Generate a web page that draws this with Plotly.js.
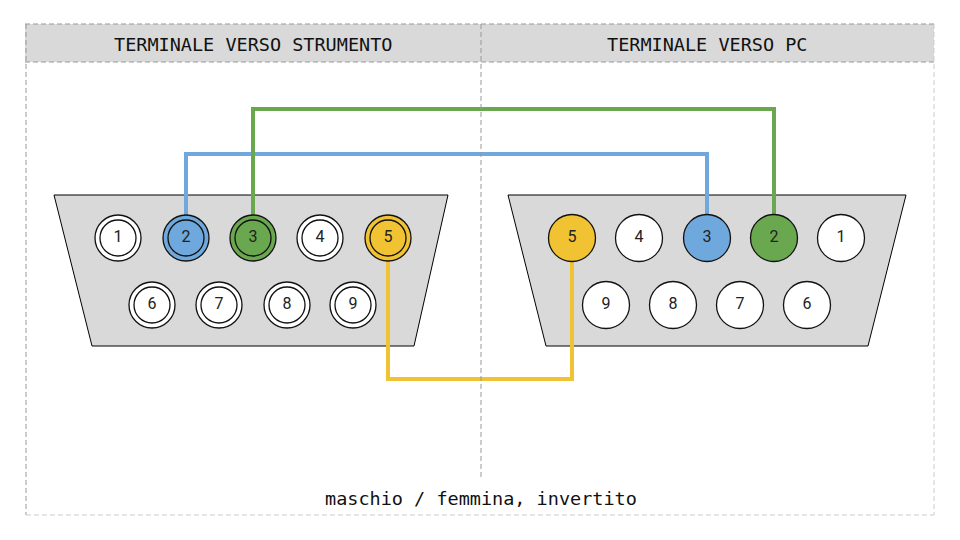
<!DOCTYPE html>
<html>
<head>
<meta charset="utf-8">
<script src="https://cdn.plot.ly/plotly-3.0.1.min.js"></script>
<style>
  html, body { margin: 0; padding: 0; background: #fff; }
  #chart { width: 960px; height: 540px; }
</style>
</head>
<body>
<div id="chart"></div>
<script>
// Section titles and footer
var headerLabels = ['TERMINALE VERSO STRUMENTO', 'TERMINALE VERSO PC'];
var footerLabel = 'maschio / femmina, invertito';

// Pin numbers as they appear on each connector (left to right)
var leftTopPins = [1, 2, 3, 4, 5];
var leftBottomPins = [6, 7, 8, 9];
var rightTopPins = [5, 4, 3, 2, 1];
var rightBottomPins = [9, 8, 7, 6];

// Wiring: pin on the instrument side -> pin on the PC side
var wireFrom = [2, 3, 5];
var wireTo = [3, 2, 5];
var wireColors = ['#6fa8dc', '#6aa84f', '#f1c232'];

// Drawing geometry (pixel space)
var leftTopX = [118, 186, 253, 320, 388];
var leftBottomX = [152, 219, 287, 353];
var rightTopX = [572, 639, 707, 774, 841];
var rightBottomX = [606, 673, 740, 807];
var topRowY = 238, bottomRowY = 305;
var wireLevels = [154, 109, 379];   // height of each wire's horizontal run

var leftShellX = [54, 448, 414, 92, 54];
var rightShellX = [508, 906, 868, 546, 508];
var shellY = [195, 195, 346, 346, 195];

var traces = [];

// Connector shells
[leftShellX, rightShellX].forEach(function(xs) {
    traces.push({
        x: xs, y: shellY, mode: 'lines', fill: 'toself',
        fillcolor: '#d9d9d9', line: {color: '#000', width: 1},
        hoverinfo: 'skip'
    });
});

function pinPos(pin, tops, topXs, bottoms, bottomXs) {
    var i = tops.indexOf(pin);
    if (i >= 0) return [topXs[i], topRowY];
    i = bottoms.indexOf(pin);
    return [bottomXs[i], bottomRowY];
}

// Wires
wireFrom.forEach(function(p, k) {
    var a = pinPos(p, leftTopPins, leftTopX, leftBottomPins, leftBottomX);
    var b = pinPos(wireTo[k], rightTopPins, rightTopX, rightBottomPins, rightBottomX);
    var lvl = wireLevels[k];
    traces.push({
        x: [a[0], a[0], b[0], b[0]],
        y: [a[1], lvl, lvl, b[1]],
        mode: 'lines', line: {color: wireColors[k], width: 4},
        hoverinfo: 'skip'
    });
});

function pinFill(pin, colored) {
    var i = colored.indexOf(pin);
    return i >= 0 ? wireColors[i] : '#ffffff';
}

var numFont = {family: 'Roboto', size: 16, color: '#222'};

// Male side: double ring pins
function malePins(pins, xs, y) {
    var fills = pins.map(function(p) { return pinFill(p, wireFrom); });
    var ys = xs.map(function() { return y; });
    traces.push({
        x: xs, y: ys, mode: 'markers',
        marker: {size: 46, color: fills, line: {color: '#111', width: 1.3}},
        hoverinfo: 'skip'
    });
    traces.push({
        x: xs, y: ys, mode: 'markers+text',
        text: pins.map(String), textposition: 'middle center', textfont: numFont,
        marker: {size: 36, color: fills, line: {color: '#111', width: 1.3}},
        hoverinfo: 'skip'
    });
}

// Female side: single ring pins
function femalePins(pins, xs, y) {
    var fills = pins.map(function(p) { return pinFill(p, wireTo); });
    traces.push({
        x: xs, y: xs.map(function() { return y; }), mode: 'markers+text',
        text: pins.map(String), textposition: 'middle center', textfont: numFont,
        marker: {size: 47, color: fills, line: {color: '#111', width: 1.3}},
        hoverinfo: 'skip'
    });
}

malePins(leftTopPins, leftTopX, topRowY);
malePins(leftBottomPins, leftBottomX, bottomRowY);
femalePins(rightTopPins, rightTopX, topRowY);
femalePins(rightBottomPins, rightBottomX, bottomRowY);

var dashDark = {color: '#999', width: 1, dash: '5px,3px'};
var dashLight = {color: '#ccc', width: 1, dash: '5px,3px'};
var textFont = {family: 'DejaVu Sans Mono', size: 18.5, color: '#111'};

var layout = {
    width: 960, height: 540,
    margin: {l: 0, r: 0, t: 0, b: 0},
    paper_bgcolor: '#fff', plot_bgcolor: '#fff',
    showlegend: false,
    xaxis: {range: [0, 960], visible: false, fixedrange: true},
    yaxis: {range: [540, 0], visible: false, fixedrange: true},
    shapes: [
        {type: 'rect', layer: 'below', x0: 25, x1: 934, y0: 24, y1: 62,
         fillcolor: '#d9d9d9', line: {width: 0}},
        {type: 'line', x0: 25, x1: 934, y0: 24, y1: 24, line: dashDark},
        {type: 'line', x0: 25, x1: 934, y0: 62, y1: 62, line: dashDark},
        {type: 'line', x0: 26, x1: 26, y0: 24, y1: 515, line: dashDark},
        {type: 'line', x0: 934, x1: 934, y0: 24, y1: 515, line: dashLight},
        {type: 'line', x0: 26, x1: 934, y0: 515, y1: 515, line: dashLight},
        {type: 'line', x0: 481, x1: 481, y0: 24, y1: 477, line: dashDark}
    ],
    annotations: [
        {x: 253, y: 44, text: headerLabels[0], showarrow: false, font: textFont},
        {x: 707, y: 44, text: headerLabels[1], showarrow: false, font: textFont},
        {x: 481, y: 498, text: footerLabel, showarrow: false, font: textFont}
    ]
};

Plotly.newPlot('chart', traces, layout, {staticPlot: true});
</script>
</body>
</html>
